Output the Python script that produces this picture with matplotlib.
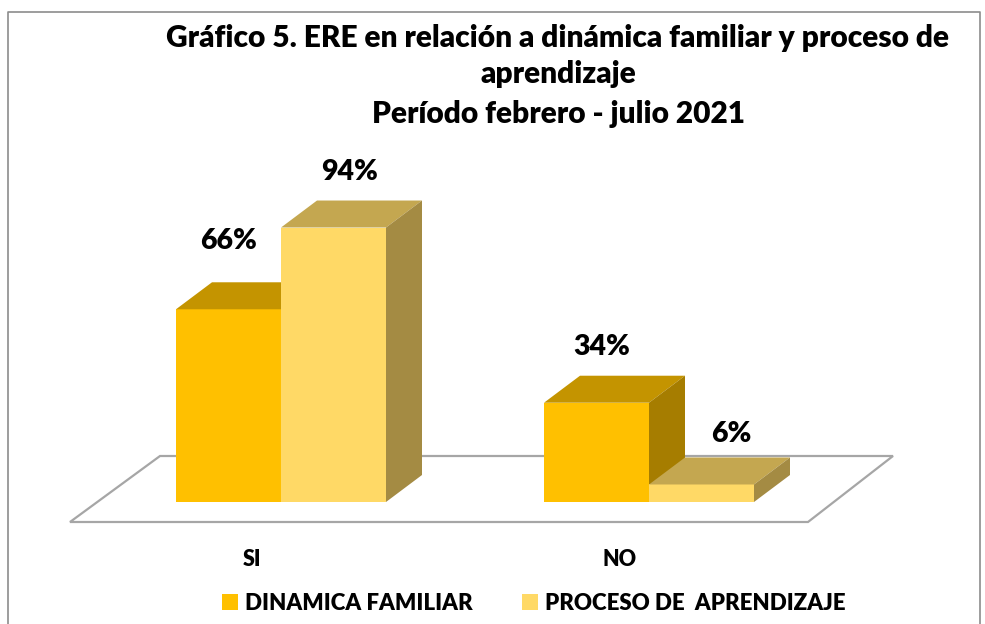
import matplotlib
matplotlib.use("Agg")
import matplotlib.pyplot as plt
from matplotlib.patches import Polygon, Patch
from matplotlib.lines import Line2D

# ---------------- data ----------------
categories = ["SI", "NO"]
series_names = ["DINAMICA FAMILIAR", "PROCESO DE  APRENDIZAJE"]
dinamica = [66, 34]
proceso = [94, 6]
value_labels_fmt = "{:d}%"
title_lines = ["Gráfico 5. ERE en relación a dinámica familiar y proceso de",
               "aprendizaje",
               "Período febrero - julio 2021"]

# ---------------- style ----------------
FONT = ["Lato", "DejaVu Sans"]
plt.rcParams['font.family'] = FONT
WEIGHT = "heavy"
W, H = 985, 624
fig = plt.figure(figsize=(W / 100, H / 100), dpi=100)

front_cols = ["#FFC000", "#FFD966"]
top_cols = ["#C49400", "#C4A750"]
side_cols = ["#A67D00", "#A48B43"]

PX_PER_CAT = 368.0
PX_PER_PCT = 2.92
X0_PX = 281.0
BASE_PX = 502.0
ax = fig.add_axes([0, 0, 1, 1])
ax.set_xlim(-X0_PX / PX_PER_CAT, (W - X0_PX) / PX_PER_CAT)
ax.set_ylim(-(H - BASE_PX) / PX_PER_PCT, BASE_PX / PX_PER_PCT)
ax.axis("off")

bar_w = 105.0 / PX_PER_CAT
ddx = 36.0 / PX_PER_CAT
ddy = 27.0 / PX_PER_PCT

def fpx(x, y):
    return (x / W, 1 - y / H)

# outer chart border
border = Line2D([8 / W, 8 / W, 980 / W, 980 / W], [0, 1 - 12 / H, 1 - 12 / H, 0],
                transform=fig.transFigure, color="#8C8C8C", lw=1.2)
fig.add_artist(border)

# floor (3D base plane), drawn under bars
floor_pts = [fpx(70, 522), fpx(808, 522), fpx(893, 456), fpx(160, 456)]
floor = Polygon(floor_pts, closed=True, transform=fig.transFigure,
                facecolor="white", edgecolor="#A6A6A6", lw=1.6, zorder=1)
ax.add_patch(floor)

def draw_bar(x0, h, k, z):
    x1 = x0 + bar_w
    ax.add_patch(Polygon([(x0, 0), (x1, 0), (x1, h), (x0, h)], closed=True,
                         facecolor=front_cols[k], edgecolor="none", zorder=z))
    ax.add_patch(Polygon([(x0, h), (x1, h), (x1 + ddx, h + ddy), (x0 + ddx, h + ddy)],
                         closed=True, facecolor=top_cols[k], edgecolor="none", zorder=z))
    ax.add_patch(Polygon([(x1, 0), (x1 + ddx, ddy), (x1 + ddx, h + ddy), (x1, h)],
                         closed=True, facecolor=side_cols[k], edgecolor="none", zorder=z))

series = [dinamica, proceso]
label_offsets = [[(0, 68), (5, 56)], [(16, 56), (30, 50)]]
z = 3
for i, cat in enumerate(categories):
    for k, vals in enumerate(series):
        x0 = i - bar_w + k * bar_w
        draw_bar(x0, vals[i], k, z)
        z += 1
        ox, oy = label_offsets[k][i]
        ax.annotate(value_labels_fmt.format(vals[i]), (x0 + bar_w / 2, vals[i]),
                    xytext=(ox, oy), textcoords="offset pixels",
                    ha="center", va="center", fontsize=20.5, fontweight=WEIGHT,
                    color="black", zorder=20)
    ax.annotate(cat, (i, 0), xytext=(-29, -58), textcoords="offset pixels",
                ha="center", va="center", fontsize=15.5, fontweight=WEIGHT, color="black")

# title
title_y = [38, 74, 114]
for line, ty in zip(title_lines, title_y):
    fig.text(558 / W, 1 - ty / H, line, ha="center", va="center",
             fontsize=21.5, fontweight=WEIGHT, color="black")

# legend
handles = [Patch(facecolor=front_cols[k], edgecolor="none") for k in range(2)]
leg = fig.legend(handles, series_names, loc="center", bbox_to_anchor=(534 / W, 1 - 603 / H),
                 ncol=2, frameon=False, handlelength=0.7, handleheight=0.7,
                 handletextpad=0.35, columnspacing=2.2,
                 prop={"family": FONT, "weight": WEIGHT, "size": 16})

fig.savefig("out.png", dpi=100)
